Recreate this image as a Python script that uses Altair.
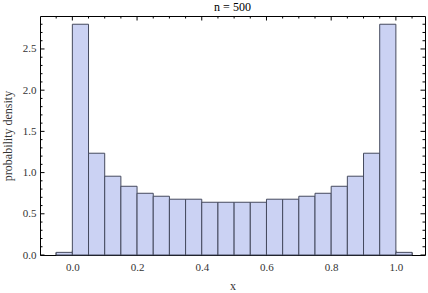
import altair as alt
import pandas as pd

# histogram data (bin edges and density)
bin_start = [-0.05, 0.0, 0.05, 0.10, 0.15, 0.20, 0.25, 0.30, 0.35, 0.40, 0.45,
             0.50, 0.55, 0.60, 0.65, 0.70, 0.75, 0.80, 0.85, 0.90, 0.95, 1.00]
bin_end = [0.0, 0.05, 0.10, 0.15, 0.20, 0.25, 0.30, 0.35, 0.40, 0.45, 0.50,
           0.55, 0.60, 0.65, 0.70, 0.75, 0.80, 0.85, 0.90, 0.95, 1.00, 1.05]
density = [0.032, 2.80, 1.235, 0.956, 0.834, 0.749, 0.713, 0.677, 0.677, 0.640, 0.640,
           0.640, 0.640, 0.677, 0.677, 0.713, 0.749, 0.834, 0.956, 1.235, 2.80, 0.032]

x_labels = [0.0, 0.2, 0.4, 0.6, 0.8, 1.0]
x_minor = [-0.05, 0.05, 0.10, 0.15, 0.25, 0.30, 0.35, 0.45, 0.50, 0.55,
           0.65, 0.70, 0.75, 0.85, 0.90, 0.95, 1.05]
y_labels = [0.0, 0.5, 1.0, 1.5, 2.0, 2.5]
y_minor = [0.1, 0.2, 0.3, 0.4, 0.6, 0.7, 0.8, 0.9, 1.1, 1.2, 1.3, 1.4, 1.6, 1.7,
           1.8, 1.9, 2.1, 2.2, 2.3, 2.4, 2.6, 2.7, 2.8]

W, H = 385, 239
FONT = "Liberation Serif"

xs = alt.Scale(domain=[-0.1, 1.09], nice=False, zero=False)
ys = alt.Scale(domain=[0, 2.9], nice=False, zero=False)

xaxis = alt.Axis(values=x_labels, format=".1f", ticks=False, domain=False,
                 grid=False, labelPadding=6, titlePadding=8)
yaxis = alt.Axis(values=y_labels, format=".1f", ticks=False, domain=False,
                 grid=False, labelPadding=4, titlePadding=8)
XT = "x"
YT = "probability  density"

bars_df = pd.DataFrame({"x0": bin_start, "x1": bin_end, "d": density})
xmaj_df = pd.DataFrame({"x0": x_labels})
xmin_df = pd.DataFrame({"x0": x_minor})
ymaj_df = pd.DataFrame({"d": y_labels})
ymin_df = pd.DataFrame({"d": y_minor})

def xticks(df, L):
    base = alt.Chart(df).mark_rule(color="black", strokeWidth=1)
    xe = alt.X("x0:Q", scale=xs, axis=xaxis, title=XT)
    top = base.encode(x=xe, y=alt.value(0), y2=alt.value(L))
    bot = base.encode(x=xe, y=alt.value(H), y2=alt.value(H - L))
    return [top, bot]

def yticks(df, L):
    base = alt.Chart(df).mark_rule(color="black", strokeWidth=1)
    ye = alt.Y("d:Q", scale=ys, axis=yaxis, title=YT)
    left = base.encode(y=ye, x=alt.value(0), x2=alt.value(L))
    right = base.encode(y=ye, x=alt.value(W), x2=alt.value(W - L))
    return [left, right]

bars = alt.Chart(bars_df).mark_rect(
    fill="#cbd2f3", stroke="#454a5e", strokeWidth=1
).encode(
    x=alt.X("x0:Q", scale=xs, title=XT, axis=xaxis),
    x2="x1:Q",
    y=alt.Y("d:Q", scale=ys, title=YT, axis=yaxis),
)

layers = (xticks(xmin_df, 2.5) + xticks(xmaj_df, 4.5) +
          yticks(ymin_df, 2.5) + yticks(ymaj_df, 4.5) + [bars])

chart = alt.layer(*layers).properties(
    width=W, height=H,
    background="white",
    title=alt.Title("n = 500", fontSize=12, font=FONT, fontWeight="normal",
                    color="black", offset=2),
    autosize=alt.AutoSizeParams(type="none"),
    padding={"left": 40, "top": 16, "right": 3, "bottom": 38},
).configure_view(
    stroke="black", strokeWidth=1
).configure_title(
    font=FONT, fontSize=12, fontWeight="normal", color="black"
).configure_axis(
    labelFont=FONT, titleFont=FONT, labelFontSize=11, titleFontSize=12,
    labelColor="#333333", titleColor="#333333", titleFontWeight="normal"
)

chart.save("out.html", embed_options={"renderer": "svg", "actions": False})
